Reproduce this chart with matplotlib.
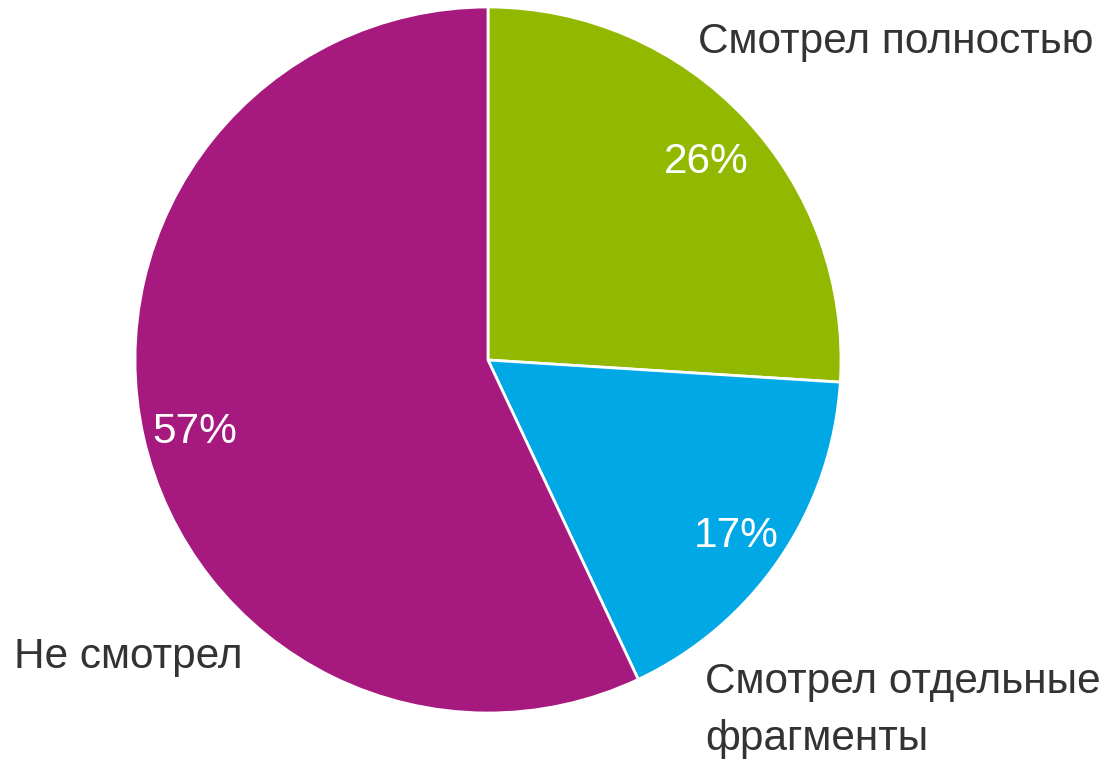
import matplotlib.pyplot as plt

# Survey answers
categories = ['Смотрел полностью', 'Смотрел отдельные\nфрагменты', 'Не смотрел']
shares = [26, 17, 57]
colors = ['#92B800', '#00A8E6', '#A6197E']

plt.rcParams['font.family'] = ['Liberation Sans', 'DejaVu Sans']

fig = plt.figure(figsize=(11.07, 7.62), dpi=100)
ax = fig.add_axes([0, 0, 1, 1])

wedges, texts, autotexts = ax.pie(
    shares, colors=colors, startangle=90, counterclock=False,
    center=(488, 402), radius=353, frame=True,
    autopct='%d%%', pctdistance=0.85,
    wedgeprops=dict(edgecolor='white', linewidth=2),
    textprops=dict(color='white', fontsize=30.5),
)
# nudge the percentages a little lower inside their wedges
for t in autotexts:
    x, y = t.get_position()
    t.set_position((x, y - 7))

ax.set_xlim(0, 1107)
ax.set_ylim(0, 762)
ax.set_aspect('equal')
ax.axis('off')

# category names sit outside the pie
label_pos = [(698, 709), (705, 12), (14, 94)]
for name, (x, y) in zip(categories, label_pos):
    ax.text(x, y, name, fontsize=30.5, color='#333333', ha='left', va='baseline',
            linespacing=1.55)

fig.savefig('out.png', dpi=100)
